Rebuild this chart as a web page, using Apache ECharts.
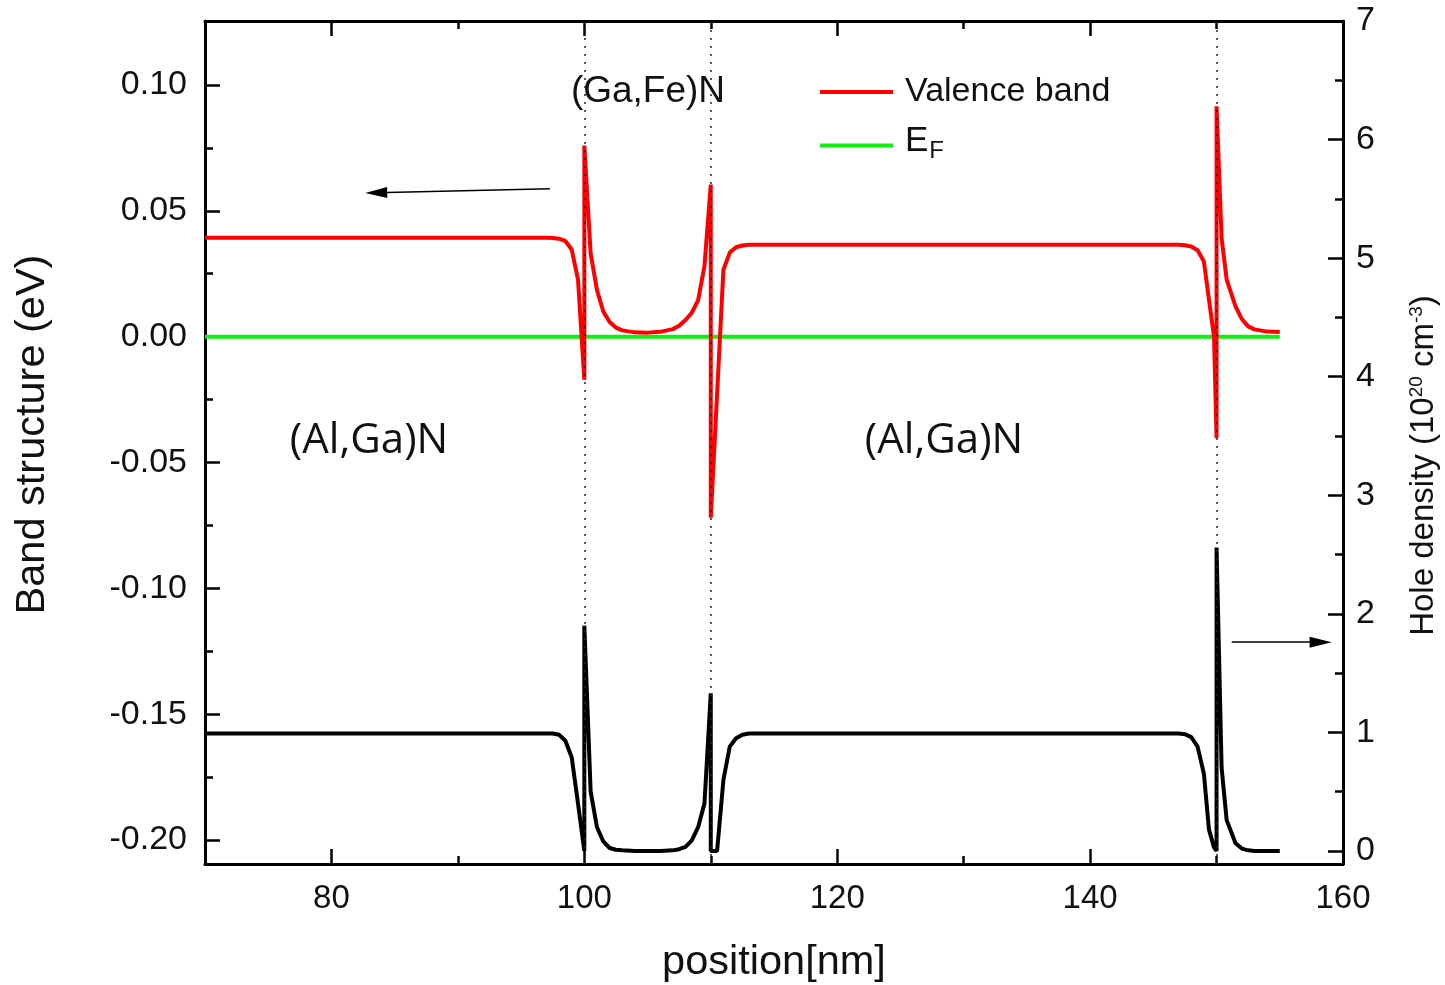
<!DOCTYPE html>
<html>
<head>
<meta charset="utf-8">
<script src="https://cdn.jsdelivr.net/npm/echarts@6/dist/echarts.min.js"></script>
<style>
html,body{margin:0;padding:0;background:#fff;}
#chart{width:1445px;height:985px;}
</style>
</head>
<body>
<div id="chart"></div>
<script>
// ---------- data ----------
const positions = [70, 97, 97.5, 98, 98.5, 99, 99.5, 100, 100, 100.5, 101, 101.5, 102, 102.5, 103, 104, 105, 106, 107, 107.5, 108, 108.5, 109, 109.5, 110, 110, 110.5, 111, 111.5, 112, 112.5, 113, 147, 147.5, 148, 148.5, 149, 149.4, 149.8, 150, 150, 150.4, 150.8, 151.5, 152, 152.5, 153, 154, 155];
const valenceBand = [0.0393, 0.0393, 0.0392, 0.0389, 0.0380, 0.0346, 0.0227, -0.0171, 0.0759, 0.0330, 0.0185, 0.0100, 0.0058, 0.0036, 0.0025, 0.0017, 0.0016, 0.0019, 0.0030, 0.0043, 0.0066, 0.0095, 0.0145, 0.0280, 0.0604, -0.0719, -0.0227, 0.0266, 0.0334, 0.0355, 0.0362, 0.0365, 0.0365, 0.0363, 0.0358, 0.0343, 0.0299, 0.0147, 0.0001, -0.0403, 0.0915, 0.0390, 0.0227, 0.0120, 0.0070, 0.0041, 0.0029, 0.0020, 0.0018];
const holeDensity = [0.99, 0.99, 0.99, 0.98, 0.93, 0.79, 0.40, 0.0, 1.90, 0.50, 0.20, 0.08, 0.025, 0.01, 0.005, 0.0, 0.0, 0.0, 0.005, 0.015, 0.035, 0.09, 0.20, 0.40, 1.33, 0.0, 0.0, 0.60, 0.88, 0.95, 0.98, 0.99, 0.99, 0.985, 0.96, 0.88, 0.65, 0.18, 0.03, 0.0, 2.56, 0.70, 0.26, 0.065, 0.02, 0.005, 0.0, 0.0, 0.0];
const fermiPositions = [70, 155];
const fermiValues = [0, 0];
const interfaces = [100, 110, 150];

const xMajorTicks = [80, 100, 120, 140, 160];
const xMinorTicks = [90, 110, 130, 150];
const leftMajorTicks = [-0.20, -0.15, -0.10, -0.05, 0.00, 0.05, 0.10];
const leftMinorTicks = [-0.175, -0.125, -0.075, -0.025, 0.025, 0.075];
const rightMajorTicks = [0, 1, 2, 3, 4, 5, 6, 7];
const rightMinorTicks = [0.5, 1.5, 2.5, 3.5, 4.5, 5.5, 6.5];

// annotation arrows [start, end] in axis units
const leftArrow = [[97.28, 0.0588], [83.54, 0.0572]];
const rightArrow = [[151.2, 1.761], [158.23, 1.761]];

// ---------- chart ----------
const FONT = '"Liberation Sans", Arial, sans-serif';
const chart = echarts.init(document.getElementById('chart'), null, {renderer: 'canvas'});

const vbData = positions.map((p, i) => [p, valenceBand[i]]);
const hdData = positions.map((p, i) => [p, holeDensity[i]]);
const efData = fermiPositions.map((p, i) => [p, fermiValues[i]]);

const X_MIN = 70, X_MAX = 160;
const L_MIN = -0.2095, L_MAX = 0.1254;
const R_MIN = -0.11, R_MAX = 7;

function baseAxis(extra) {
  return Object.assign({
    type: 'value',
    splitLine: {show: false},
    axisLine: {show: false, onZero: false},
    axisLabel: {show: false},
    axisTick: {show: false}
  }, extra);
}

const axisLineStyle = {show: true, onZero: false, lineStyle: {color: '#000', width: 3}};
const tickStyle = {color: '#000', width: 2.5};

const option = {
  animation: false,
  backgroundColor: '#fff',
  grid: {left: 205, right: 102, top: 21, bottom: 121, containLabel: false, outerBoundsMode: 'none'},
  xAxis: [
    baseAxis({
      min: X_MIN, max: X_MAX, position: 'bottom',
      axisLine: axisLineStyle,
      axisTick: {show: true, inside: true, length: 15, customValues: xMajorTicks, lineStyle: tickStyle},
      axisLabel: {show: true, customValues: xMajorTicks, fontSize: 33, fontFamily: FONT, color: '#111', margin: 18},
      name: 'position[nm]', nameLocation: 'middle', nameGap: 78,
      nameTextStyle: {fontSize: 41.5, fontFamily: FONT, color: '#111'}
    }),
    baseAxis({
      min: X_MIN, max: X_MAX, position: 'bottom',
      axisTick: {show: true, inside: true, length: 8, customValues: xMinorTicks, lineStyle: tickStyle}
    }),
    baseAxis({
      min: X_MIN, max: X_MAX, position: 'top',
      axisLine: axisLineStyle,
      axisTick: {show: true, inside: true, length: 15, customValues: xMajorTicks.slice(0, 4), lineStyle: tickStyle}
    }),
    baseAxis({
      min: X_MIN, max: X_MAX, position: 'top',
      axisTick: {show: true, inside: true, length: 8, customValues: xMinorTicks, lineStyle: tickStyle}
    })
  ],
  yAxis: [
    baseAxis({
      min: L_MIN, max: L_MAX, position: 'left',
      axisLine: axisLineStyle,
      axisTick: {show: true, inside: true, length: 15, customValues: leftMajorTicks, lineStyle: tickStyle},
      axisLabel: {show: true, customValues: leftMajorTicks, fontSize: 34, fontFamily: FONT, color: '#111', margin: 18,
        formatter: v => v.toFixed(2)},
      name: 'Band structure (eV)', nameLocation: 'middle', nameGap: 151, nameRotate: 90,
      nameTextStyle: {fontSize: 41.5, fontFamily: FONT, color: '#111', padding: [0, 0, 0, 16]}
    }),
    baseAxis({
      min: L_MIN, max: L_MAX, position: 'left',
      axisTick: {show: true, inside: true, length: 8, customValues: leftMinorTicks, lineStyle: tickStyle}
    }),
    baseAxis({
      min: R_MIN, max: R_MAX, position: 'right',
      axisLine: axisLineStyle,
      axisTick: {show: true, inside: true, length: 15, customValues: rightMajorTicks, lineStyle: tickStyle},
      axisLabel: {show: true, customValues: rightMajorTicks, fontSize: 34, fontFamily: FONT, color: '#111', margin: 13},
      name: 'Hole density (10{sup|20} cm{sup|-3})', nameLocation: 'middle', nameGap: 64, nameRotate: 90,
      nameTextStyle: {fontSize: 33, fontFamily: FONT, color: '#111', padding: [0, 46, 0, 0],
        rich: {sup: {fontSize: 19, fontFamily: FONT, color: '#111', verticalAlign: 'top', padding: [0, 0, 14, 0]}}}
    }),
    baseAxis({
      min: R_MIN, max: R_MAX, position: 'right',
      axisTick: {show: true, inside: true, length: 8, customValues: rightMinorTicks, lineStyle: tickStyle}
    })
  ],
  legend: [
    {
      data: ['Valence band'], left: 820, top: 75, orient: 'vertical', padding: 0,
      icon: 'rect', itemWidth: 73, itemHeight: 4,
      textStyle: {fontSize: 34, fontFamily: FONT, color: '#111', padding: [0, 0, 0, 7]},
      selectedMode: false
    },
    {
      data: ['E_F'], left: 820, top: 105, orient: 'vertical', padding: 0,
      icon: 'rect', itemWidth: 73, itemHeight: 4,
      formatter: () => '{m|E}{s|F}',
      textStyle: {fontSize: 35, fontFamily: FONT, color: '#111', padding: [0, 0, 0, 7],
        rich: {
          m: {fontSize: 35, fontFamily: FONT, color: '#111', lineHeight: 35, padding: [19, 0, 4, 0], verticalAlign: 'bottom'},
          s: {fontSize: 24, fontFamily: FONT, color: '#111', lineHeight: 24, padding: [0, 0, 0, 1], verticalAlign: 'bottom'}
        }},
      selectedMode: false
    }
  ],
  graphic: [
    {type: 'text', x: 648, y: 92, z: 100, style: {text: '(Ga,Fe)N', font: '37px "Liberation Sans", Arial, sans-serif', fill: '#111', align: 'center', verticalAlign: 'middle'}},
    {type: 'text', x: 369, y: 441, z: 100, style: {text: '(Al,Ga)N', font: '42px "Open Sans", "Noto Sans", sans-serif', fill: '#111', align: 'center', verticalAlign: 'middle'}},
    {type: 'text', x: 944, y: 441, z: 100, style: {text: '(Al,Ga)N', font: '42px "Open Sans", "Noto Sans", sans-serif', fill: '#111', align: 'center', verticalAlign: 'middle'}}
  ],
  series: [
    {
      name: 'E_F', type: 'line', xAxisIndex: 0, yAxisIndex: 0,
      data: efData, showSymbol: false, symbol: 'none',
      lineStyle: {color: '#11ee11', width: 4}, itemStyle: {color: '#11ee11'},
      z: 2,
      markLine: {
        silent: true, symbol: ['none', 'none'], animation: false,
        label: {show: false},
        lineStyle: {color: '#222', width: 1.5, type: [2, 6]},
        data: interfaces.map(v => ({xAxis: v}))
      }
    },
    {
      name: 'Valence band', type: 'line', xAxisIndex: 0, yAxisIndex: 0,
      data: vbData, showSymbol: false, symbol: 'none',
      lineStyle: {color: '#ff0000', width: 4}, itemStyle: {color: '#ff0000'},
      z: 3,
      markLine: {
        silent: true, animation: false, label: {show: false},
        lineStyle: {color: '#000', width: 1.5, type: 'solid'},
        data: [[
          {coord: leftArrow[0], symbol: 'none'},
          {coord: leftArrow[1], symbol: 'triangle', symbolSize: [11, 22]}
        ]]
      }
    },
    {
      name: 'Hole density', type: 'line', xAxisIndex: 0, yAxisIndex: 2,
      data: hdData, showSymbol: false, symbol: 'none',
      lineStyle: {color: '#000', width: 4}, itemStyle: {color: '#000'},
      z: 3,
      markLine: {
        silent: true, animation: false, label: {show: false},
        lineStyle: {color: '#000', width: 1.5, type: 'solid'},
        data: [[
          {coord: rightArrow[0], symbol: 'none'},
          {coord: rightArrow[1], symbol: 'triangle', symbolSize: [11, 22]}
        ]]
      }
    }
  ]
};
chart.setOption(option);
</script>
</body>
</html>
